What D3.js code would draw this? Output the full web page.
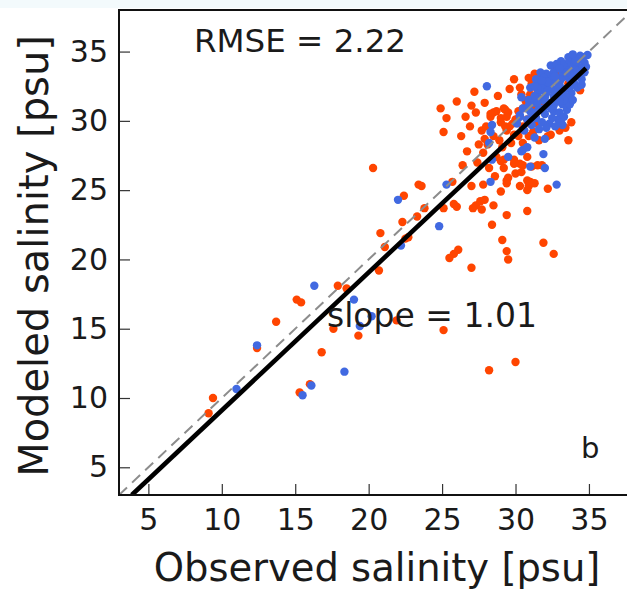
<!DOCTYPE html>
<html>
<head>
<meta charset="utf-8">
<script src="https://cdn.jsdelivr.net/npm/d3@7"></script>
<style>
  body { margin: 0; background: #ffffff; }
  svg { display: block; font-family: "DejaVu Sans", sans-serif; }
</style>
</head>
<body>
<div id="chart"></div>
<script>
'use strict';

// axis setup
const xDomain = [3, 38];
const yDomain = [3, 38];
const xTicks = [5, 10, 15, 20, 25, 30, 35];
const yTicks = [5, 10, 15, 20, 25, 30, 35];

// [observed, modeled]
const orangePts = [
  [9.4, 10.0], [9.1, 8.9], [12.4, 13.6], [13.7, 15.5], [15.1, 17.1], [15.4, 16.9],
  [17.9, 18.1], [17.6, 15.0], [16.8, 13.3], [16.0, 11.0], [15.3, 10.4], [18.5, 17.9],
  [21.9, 15.6], [19.3, 14.5], [25.1, 14.9], [30.0, 12.6], [28.2, 12.0],
  [20.3, 26.6], [21.1, 20.9], [20.8, 21.9], [22.7, 21.6], [20.7, 19.2], [23.3, 23.1],
  [22.3, 22.7], [22.5, 21.5], [23.4, 25.4], [23.6, 25.3], [22.4, 24.6], [23.8, 23.7],
  [25.7, 25.6], [25.1, 23.7], [25.8, 24.0], [26.0, 23.8], [27.0, 25.3], [27.8, 25.4],
  [28.6, 26.0], [27.3, 23.9], [27.6, 24.2], [27.9, 24.3], [27.7, 23.6], [27.1, 23.7],
  [28.5, 23.9], [30.9, 25.3], [30.8, 25.0], [32.2, 25.1], [31.0, 25.6], [30.8, 23.5],
  [29.4, 23.2], [28.4, 22.5], [29.1, 21.4], [31.9, 21.2], [32.6, 20.4], [29.4, 20.6],
  [29.5, 20.0], [26.1, 20.7], [25.8, 20.4], [25.5, 20.1], [27.0, 19.4], [30.3, 25.3],
  [29.0, 24.9], [29.4, 25.7], [30.0, 26.2], [30.8, 25.7], [31.3, 25.5], [26.7, 27.8],
  [27.8, 27.7], [26.4, 26.8], [29.0, 27.1], [29.2, 26.6], [29.9, 26.9], [30.5, 26.8],
  [29.5, 25.9], [29.4, 25.5], [30.4, 26.3], [31.1, 26.7], [31.5, 26.8], [31.8, 26.8],
  [27.2, 32.1], [26.0, 31.4], [24.9, 30.9], [25.3, 30.2], [25.1, 29.2], [27.9, 31.3],
  [29.9, 33.0], [30.3, 32.4], [30.4, 31.9], [30.8, 31.5], [28.7, 30.7], [28.3, 30.3],
  [29.0, 30.2], [29.3, 30.8], [29.5, 30.6], [29.6, 29.6], [27.7, 29.3], [27.9, 28.7],
  [27.5, 28.3], [28.1, 28.3], [30.0, 30.1], [29.4, 29.3], [29.9, 29.0], [30.2, 28.9],
  [30.5, 29.6], [31.0, 29.8], [29.2, 27.2], [29.9, 27.2], [30.3, 26.9], [30.8, 27.4],
  [28.7, 27.4], [29.1, 28.1], [30.5, 28.4], [28.5, 30.6], [29.2, 30.9], [31.1, 32.7],
  [31.3, 33.4], [33.7, 34.3], [31.7, 33.2], [31.5, 32.2], [31.0, 31.9], [30.7, 31.4],
  [30.5, 30.9], [31.2, 31.1], [30.2, 30.7], [30.1, 30.1], [30.8, 30.1], [33.0, 33.2],
  [32.7, 33.6], [33.6, 32.7], [31.8, 31.0], [31.5, 29.8], [31.2, 29.2], [32.2, 28.9],
  [31.6, 28.6], [33.6, 28.6], [33.0, 29.3], [33.8, 29.9], [29.4, 30.3], [29.0, 29.9],
  [29.3, 29.6], [29.8, 29.8], [34.4, 32.2], [33.4, 29.5], [32.4, 29.0], [28.3, 30.5],
  [26.6, 30.3], [27.3, 30.6], [26.9, 29.6], [28.0, 29.6], [28.9, 28.6], [28.5, 28.9],
  [27.4, 27.0], [28.2, 26.6], [29.7, 28.4], [30.9, 28.9], [26.3, 28.9], [27.0, 31.1],
  [28.8, 31.8], [29.6, 32.3], [30.9, 33.1]
];

const bluePts = [
  [11.0, 10.65], [12.4, 13.8], [16.3, 18.1], [18.35, 11.9], [16.1, 10.9], [15.5, 10.2],
  [19.0, 17.1], [20.2, 15.9], [19.4, 15.2], [22.2, 21.0], [22.0, 24.3], [25.3, 25.4],
  [24.8, 22.4], [32.8, 25.4], [28.4, 27.2], [31.0, 26.7], [32.0, 26.6], [31.9, 27.6],
  [28.05, 32.5], [28.4, 29.7], [28.3, 29.2], [28.2, 28.4], [30.3, 30.4], [30.5, 27.9],
  [29.5, 27.4], [33.2, 29.7], [28.3, 25.6], [30.8, 28.1], [30.4, 27.8],
  [34.6, 34.6], [34.9, 34.75], [34.3, 34.4], [34.7, 34.2], [34.2, 34.0], [34.8, 33.9],
  [34.0, 34.5], [33.8, 34.3], [33.6, 34.6], [33.5, 34.1], [33.9, 33.7], [34.4, 33.5],
  [34.1, 33.2], [33.3, 33.9], [33.1, 34.3], [32.9, 33.8], [33.2, 33.4], [33.7, 33.0],
  [34.0, 32.7], [32.6, 33.5], [32.4, 33.1], [32.1, 33.4], [32.0, 33.0], [31.6, 32.7],
  [32.7, 32.9], [33.0, 32.6], [33.4, 32.3], [33.8, 32.0], [32.5, 32.3], [32.1, 32.0],
  [31.7, 32.2], [31.5, 31.8], [31.9, 31.5], [32.3, 31.3], [32.8, 31.6], [33.2, 31.2],
  [33.5, 30.8], [32.6, 30.7], [32.0, 30.5], [31.6, 30.9], [31.2, 31.3], [31.0, 30.7],
  [31.4, 30.2], [31.8, 29.9], [32.3, 29.8], [32.9, 30.1], [33.1, 29.9], [32.7, 29.6],
  [32.1, 29.5], [31.6, 29.4], [31.1, 29.7], [30.8, 30.1], [30.6, 29.3], [30.9, 31.5],
  [30.5, 30.9], [30.3, 30.3], [30.1, 29.8], [33.6, 31.6], [34.2, 32.4], [31.4, 33.0],
  [31.0, 32.4], [34.5, 33.0], [33.9, 33.2], [32.4, 34.0], [31.7, 33.5], [30.4, 31.7],
  [31.3, 28.8], [32.0, 28.7], [33.7, 31.2], [34.3, 33.8], [33.0, 31.9], [32.5, 32.8],
  [34.0, 34.0], [33.6, 33.6], [33.3, 33.2], [32.9, 32.4], [33.4, 31.8], [33.9, 31.5],
  [34.5, 32.6], [34.7, 33.5], [34.4, 34.7], [33.9, 34.8], [32.8, 34.1], [32.3, 32.6],
  [31.9, 32.5], [31.3, 31.8], [31.1, 30.2], [31.9, 30.9], [32.5, 30.2], [33.0, 30.6],
  [33.3, 30.3], [32.4, 30.9], [31.5, 31.3], [30.8, 30.9], [32.2, 32.2], [33.1, 33.0],
  [31.9, 33.1], [32.6, 31.8],
  [33.5, 33.5], [33.0, 33.8], [32.7, 33.2], [32.2, 32.8], [31.8, 32.9], [32.9, 32.1],
  [33.3, 31.5], [33.7, 32.4], [34.2, 33.6], [34.6, 33.8], [32.0, 31.7], [31.5, 32.3],
  [32.6, 31.1], [33.0, 31.4], [34.1, 34.3], [31.3, 32.5], [30.9, 31.1], [31.4, 30.6]
];

// regression line endpoints and 1:1 reference
const fitLine = [[3.87, 3.0], [34.8, 33.8]];
const oneToOne = [[3, 3], [38, 38]];

const rmseText = 'RMSE = 2.22';
const slopeText = 'slope = 1.01';
const panelText = 'b';
const xLabel = 'Observed salinity [psu]';
const yLabel = 'Modeled salinity [psu]';

const width = 627;
const height = 594;
const plot = { left: 119, top: 10, right: 633, bottom: 495 };

const svg = d3.select('#chart').append('svg')
  .attr('width', width)
  .attr('height', height)

// thin pale strip along the top edge of the reference
svg.append('rect')
  .attr('x', 0).attr('y', 0)
  .attr('width', width).attr('height', 8)
  .attr('fill', '#f3fafc')

const xScale = d3.scaleLinear()
  .domain(xDomain)
  .range([plot.left, plot.right])

const yScale = d3.scaleLinear()
  .domain(yDomain)
  .range([plot.bottom, plot.top])

svg.append('clipPath')
  .attr('id', 'plot-clip')
  .append('rect')
  .attr('x', plot.left)
  .attr('y', plot.top)
  .attr('width', plot.right - plot.left)
  .attr('height', plot.bottom - plot.top)

const xAxis = d3.axisBottom(xScale)
  .tickValues(xTicks)
  .tickSize(-11)
  .tickPadding(14)

const yAxis = d3.axisLeft(yScale)
  .tickValues(yTicks)
  .tickSize(-11)
  .tickPadding(11)

const gx = svg.append('g')
  .attr('transform', `translate(0, ${plot.bottom})`)
  .call(xAxis)

const gy = svg.append('g')
  .attr('transform', `translate(${plot.left}, 0)`)
  .call(yAxis)

for (const g of [gx, gy]) {
  g.select('.domain').remove();
  g.selectAll('.tick line')
    .attr('stroke', '#333')
    .attr('stroke-width', 1.2)
  g.selectAll('.tick text')
    .attr('fill', '#1a1a1a')
    .style('font-size', '30px')
    .style('font-family', '"DejaVu Sans", sans-serif')
}

const body = svg.append('g')
  .attr('clip-path', 'url(#plot-clip)')

body.selectAll('circle.orange')
  .data(orangePts)
  .enter().append('circle')
  .attr('class', 'orange')
  .attr('cx', d => xScale(d[0]))
  .attr('cy', d => yScale(d[1]))
  .attr('r', 4.2)
  .attr('fill', '#ff4500')

body.selectAll('circle.blue')
  .data(bluePts)
  .enter().append('circle')
  .attr('class', 'blue')
  .attr('cx', d => xScale(d[0]))
  .attr('cy', d => yScale(d[1]))
  .attr('r', 4.2)
  .attr('fill', '#4169e1')

const line = d3.line()
  .x(d => xScale(d[0]))
  .y(d => yScale(d[1]))

body.append('path')
  .datum(oneToOne)
  .attr('d', line)
  .attr('fill', 'none')
  .attr('stroke', '#8c8c8c')
  .attr('stroke-width', 2)
  .attr('stroke-dasharray', '11,7')

body.append('path')
  .datum(fitLine)
  .attr('d', line)
  .attr('fill', 'none')
  .attr('stroke', '#000')
  .attr('stroke-width', 4.6)

// frame (right edge falls outside the picture)
svg.append('path')
  .attr('d', `M${plot.right},${plot.top}H${plot.left}V${plot.bottom}H${plot.right}`)
  .attr('fill', 'none')
  .attr('stroke', '#111')
  .attr('stroke-width', 2)

// annotations
svg.append('text')
  .text(rmseText)
  .attr('x', 194)
  .attr('y', 52)
  .style('font-size', '32.5px')
  .attr('fill', '#1a1a1a')

svg.append('text')
  .text(slopeText)
  .attr('x', 327)
  .attr('y', 327)
  .style('font-size', '33px')
  .attr('fill', '#1a1a1a')

svg.append('text')
  .text(panelText)
  .attr('x', 581)
  .attr('y', 458)
  .style('font-size', '29px')
  .attr('fill', '#1a1a1a')

svg.append('text')
  .text(xLabel)
  .attr('x', 377)
  .attr('y', 581)
  .attr('text-anchor', 'middle')
  .style('font-size', '38.5px')
  .attr('fill', '#1a1a1a')

svg.append('text')
  .text(yLabel)
  .attr('transform', 'translate(48, 256) rotate(-90)')
  .attr('text-anchor', 'middle')
  .style('font-size', '40px')
  .attr('fill', '#1a1a1a')
</script>
</body>
</html>
